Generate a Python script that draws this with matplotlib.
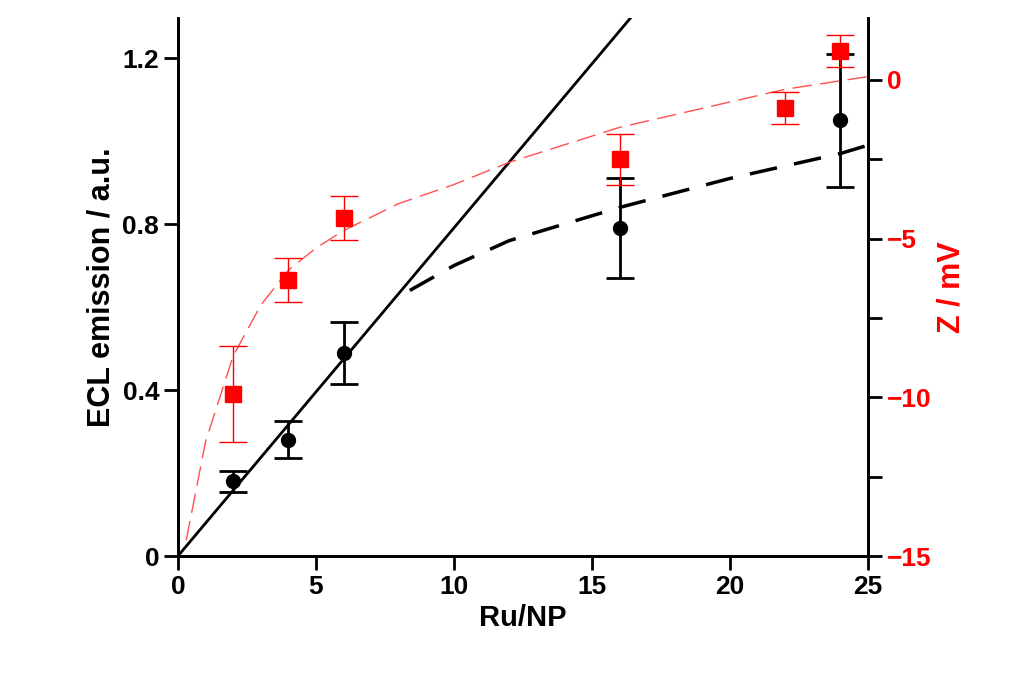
import matplotlib
matplotlib.use("Agg")
import matplotlib.pyplot as plt

plt.rcParams['font.family'] = ['Liberation Sans', 'DejaVu Sans']
plt.rcParams['font.weight'] = 'bold'

ecl_x = [2, 4, 6, 16, 24]
ecl_y = [0.18, 0.28, 0.49, 0.79, 1.05]
ecl_err = [0.025, 0.045, 0.075, 0.12, 0.16]

z_x = [2, 4, 6, 16, 22, 24]
z_y = [-9.9, -6.3, -4.35, -2.5, -0.9, 0.9]
z_err = [1.5, 0.7, 0.7, 0.8, 0.5, 0.5]

lin_x = [0, 16.4]
lin_y = [0, 1.297]

ecl_fit_x = [8.4, 10, 12, 14, 16, 18, 20, 22, 24, 25]
ecl_fit_y = [0.64, 0.70, 0.76, 0.80, 0.84, 0.875, 0.91, 0.94, 0.97, 0.99]

z_fit_x = [0.3, 1, 2, 3, 4, 5, 6, 8, 10, 12, 16, 20, 22, 25]
z_fit_y = [-14.5, -11.4, -8.7, -7.1, -6.0, -5.3, -4.75, -3.9, -3.3, -2.6, -1.5, -0.7, -0.3, 0.1]

fig = plt.figure(figsize=(10.14, 6.86), dpi=100)
ax = fig.add_axes([0.1755, 0.1895, 0.6805, 0.7845])
ax2 = ax.twinx()

ax.plot(lin_x, lin_y, color='black', lw=2)
ax.plot(ecl_fit_x, ecl_fit_y, color='black', lw=2.5, dashes=(8, 5))
ax.errorbar(ecl_x, ecl_y, yerr=ecl_err, fmt='o', color='black', ms=10,
            capsize=10, elinewidth=2, capthick=2, zorder=5)

ax2.plot(z_fit_x, z_fit_y, color='#ff5050', lw=1, dashes=(14, 6))
ax2.errorbar(z_x, z_y, yerr=z_err, fmt='s', color='red', ms=12,
             capsize=10, elinewidth=1, capthick=1, zorder=5)

ax.set_xlim(0, 25)
ax.set_ylim(0, 1.297)
ax2.set_ylim(-15, 1.95)
ax.set_xticks([0, 5, 10, 15, 20, 25])
ax.set_yticks([0, 0.4, 0.8, 1.2])
ax.set_yticklabels(['0', '0.4', '0.8', '1.2'])
ax2.set_yticks([-15, -10, -5, 0])
ax2.set_yticks([-12.5, -7.5, -2.5], minor=True)

for a in (ax, ax2):
    a.spines['top'].set_visible(False)
    for s in a.spines.values():
        s.set_linewidth(2)
ax.tick_params(axis='both', which='major', direction='out', length=10, width=2, labelsize=19)
ax2.tick_params(axis='y', which='both', direction='out', length=10, width=2, labelsize=19, labelcolor='red')
ax.set_xlabel('Ru/NP', fontsize=21, fontweight='bold')
ax.set_ylabel('ECL emission / a.u.', fontsize=22, fontweight='bold')
ax2.set_ylabel('Z / mV', fontsize=22, fontweight='bold', color='red')

fig.savefig('out.png', dpi=100)
